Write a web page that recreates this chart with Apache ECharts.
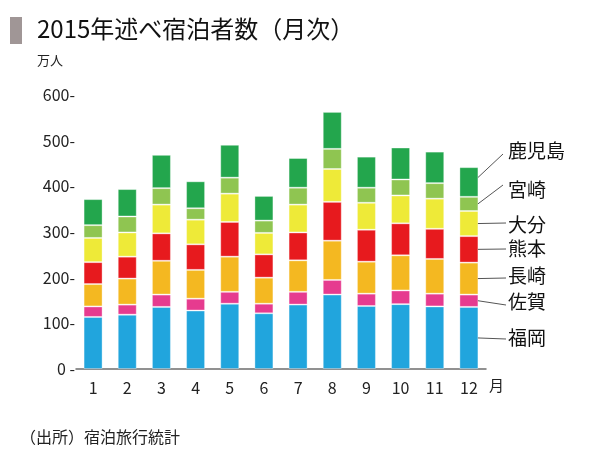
<!DOCTYPE html>
<html><head><meta charset="utf-8">
<script src="https://cdn.jsdelivr.net/npm/echarts@6/dist/echarts.min.js"></script>
<style>html,body{margin:0;padding:0;background:#fff}#c{width:598px;height:466px}</style>
</head><body><div id="c"></div>
<script>
var months = ['1','2','3','4','5','6','7','8','9','10','11','12'];
var prefNames = ['福岡','佐賀','長崎','熊本','大分','宮崎','鹿児島'];
var fukuoka   = [114,119,136,128,143,122,141,163,138,142,137,136];
var saga      = [23, 22, 27, 26, 26, 21, 28, 32, 27, 30, 28, 27];
var nagasaki  = [49, 57, 74, 63, 77, 57, 69, 86, 70, 77, 76, 70];
var kumamoto  = [48, 48, 60, 56, 76, 51, 61, 85, 70, 70, 66, 58];
var oita      = [53, 53, 63, 54, 62, 47, 61, 72, 59, 61, 66, 55];
var miyazaki  = [28, 35, 36, 25, 35, 27, 37, 44, 33, 35, 34, 31];
var kagoshima = [57, 60, 73, 59, 72, 54, 65, 81, 68, 70, 69, 65];
var yTicks = [0,100,200,300,400,500,600];
var colors = ['#21a5dd','#e63b8f','#f4b821','#e71a1e','#eeea38','#8fc551','#23a64d'];
var seriesData = [fukuoka,saga,nagasaki,kumamoto,oita,miyazaki,kagoshima];
// label layout (text centre y, line end, anchor fraction within segment)
var labelY = [339,303,277,250,226,191,152];
var lineEndY = [339,305,278,249,223,185,154];
var anchorFrac = [0.5,0.5,0.5,0.5,0.5,0.5,0.65];

var FONT = "'Noto Sans CJK JP', sans-serif";
var chart = echarts.init(document.getElementById('c'), null, {renderer:'canvas'});
var option = {
  animation:false,
  grid:{left:76,right:112,top:95,bottom:97},
  xAxis:{type:'category',data:months,
    axisLine:{lineStyle:{color:'#6e6e6e',width:1.5}},
    axisTick:{show:false},
    axisLabel:{color:'#222',fontSize:16,fontFamily:FONT,margin:11}},
  yAxis:{type:'value',min:yTicks[0],max:yTicks[yTicks.length-1],interval:100,
    axisLine:{show:false},axisTick:{show:false},splitLine:{show:false},
    axisLabel:{color:'#222',fontSize:16,fontFamily:FONT,margin:1,
      formatter:function(v){return v===0?'0 -':v+'-';}}},
  series: seriesData.map(function(d,i){
    return {type:'bar',name:prefNames[i],stack:'s',data:d,barWidth:19,
      itemStyle:{color:colors[i],borderColor:'rgba(255,255,255,0.35)',borderWidth:1}};
  }),
  graphic:[
    {type:'rect',shape:{x:10,y:17,width:12,height:27},style:{fill:'#a09696'}},
    {type:'text',left:37,top:17,style:{text:'2015年述べ宿泊者数（月次）',font:'24px '+FONT,fill:'#111'}},
    {type:'text',left:37,top:54,style:{text:'万人',font:'13px '+FONT,fill:'#222'}},
    {type:'text',left:489,top:378,style:{text:'月',font:'15px '+FONT,fill:'#222'}},
    {type:'text',left:20,top:429,style:{text:'（出所）宿泊旅行統計',font:'16px '+FONT,fill:'#222'}}
  ]
};
chart.setOption(option);

// leader lines & labels anchored to December stack segments
var g = option.graphic.slice();
var cum = 0;
var last = months.length-1;
for (var i=0;i<seriesData.length;i++){
  var v = seriesData[i][last];
  var mid = cum + v*anchorFrac[i]; cum += v;
  var p = chart.convertToPixel({gridIndex:0},[months[last], mid]);
  var endX = (i>=5)?503:506;
  g.push({type:'line',shape:{x1:p[0]+9,y1:p[1],x2:endX,y2:lineEndY[i]},style:{stroke:'#555',lineWidth:1},z:10});
  g.push({type:'text',left:508,top:labelY[i]-11,style:{text:prefNames[i],font:'19px '+FONT,fill:'#111'},z:10});
}
chart.setOption({graphic:g});
</script></body></html>
